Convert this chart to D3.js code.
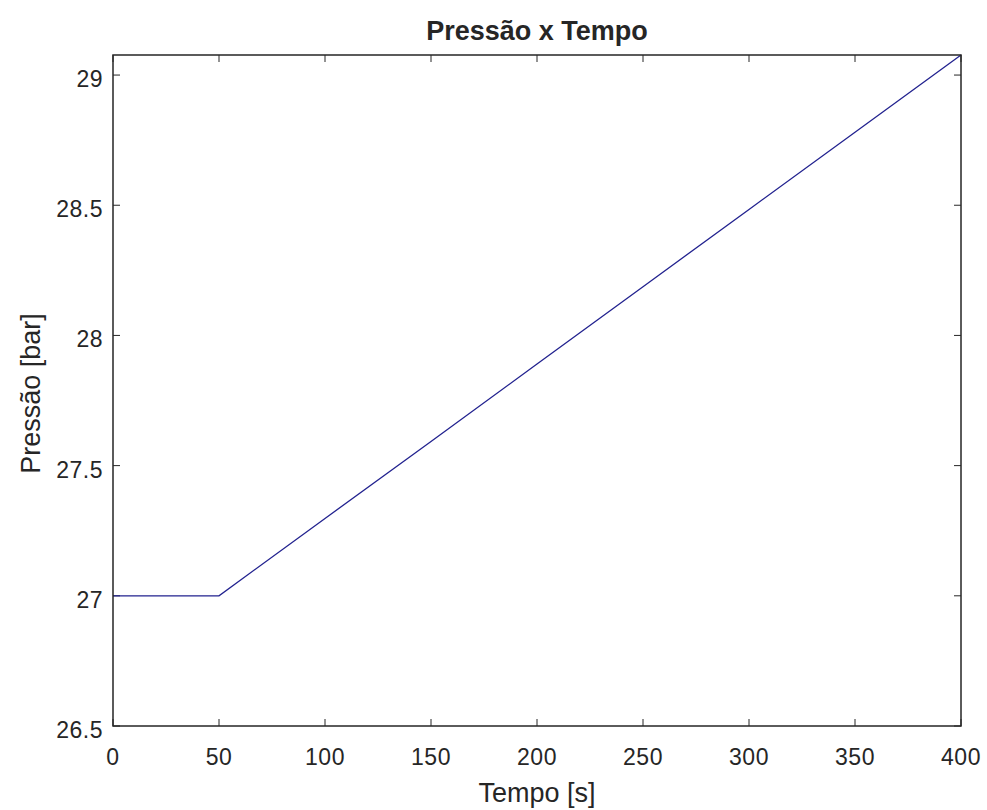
<!DOCTYPE html>
<html><head><meta charset="utf-8">
<script src="https://cdn.jsdelivr.net/npm/d3@7"></script>
<style>body{margin:0;background:#fff}svg{display:block}text{font-family:"Liberation Sans",Arial,sans-serif;fill:#262626}</style>
</head><body><svg id="c" width="987" height="810"></svg>
<script>
const timeValues = [0, 50, 100, 150, 200, 250, 300, 350, 400];
const pressureValues = [27, 27, 27.297, 27.593, 27.89, 28.187, 28.484, 28.78, 29.077];
const xTicks = [0, 50, 100, 150, 200, 250, 300, 350, 400];
const yTicks = [26.5, 27, 27.5, 28, 28.5, 29];
const title = "Pressão x Tempo", xLabel = "Tempo [s]", yLabel = "Pressão [bar]";

const L = 113, R = 961, T = 55, B = 726;
const svg = d3.select("#c");
const x = d3.scaleLinear().domain([0, 400]).range([L, R]);
const y = d3.scaleLinear().domain([26.5, 29.077]).range([B, T]);
const tl = 7;
const g = svg.append("g");
const axisCol = "#262626";
xTicks.forEach(v => {
  g.append("line").attr("x1", x(v)).attr("x2", x(v)).attr("y1", B).attr("y2", B - tl).attr("stroke", axisCol);
  g.append("line").attr("x1", x(v)).attr("x2", x(v)).attr("y1", T).attr("y2", T + tl).attr("stroke", axisCol);
  g.append("text").attr("x", x(v)).attr("y", B + 39).attr("text-anchor", "middle").attr("font-size", 23).attr("letter-spacing", 0.5).text(v);
});
yTicks.forEach(v => {
  g.append("line").attr("x1", L).attr("x2", L + tl).attr("y1", y(v)).attr("y2", y(v)).attr("stroke", axisCol);
  g.append("line").attr("x1", R).attr("x2", R - tl).attr("y1", y(v)).attr("y2", y(v)).attr("stroke", axisCol);
  g.append("text").attr("x", L - 10).attr("y", y(v) + 12).attr("text-anchor", "end").attr("font-size", 23).attr("letter-spacing", 0.5).text(v);
});
const line = d3.line().x((d, i) => x(timeValues[i])).y(d => y(d));
g.append("path").datum(pressureValues).attr("d", line).attr("fill", "none").attr("stroke", "#22228f").attr("stroke-width", 1.3);
g.append("rect").attr("x", L).attr("y", T).attr("width", R - L).attr("height", B - T).attr("fill", "none").attr("stroke", axisCol).attr("stroke-width", 1.5);
svg.append("text").attr("x", (L + R) / 2).attr("y", 40).attr("text-anchor", "middle").attr("font-size", 27).attr("font-weight", "bold").attr("fill", "#000").text(title);
svg.append("text").attr("x", (L + R) / 2).attr("y", 802).attr("text-anchor", "middle").attr("font-size", 27).text(xLabel);
svg.append("text").attr("transform", `translate(40,${(T + B) / 2 + 3}) rotate(-90)`).attr("text-anchor", "middle").attr("font-size", 27).text(yLabel);
</script></body></html>
